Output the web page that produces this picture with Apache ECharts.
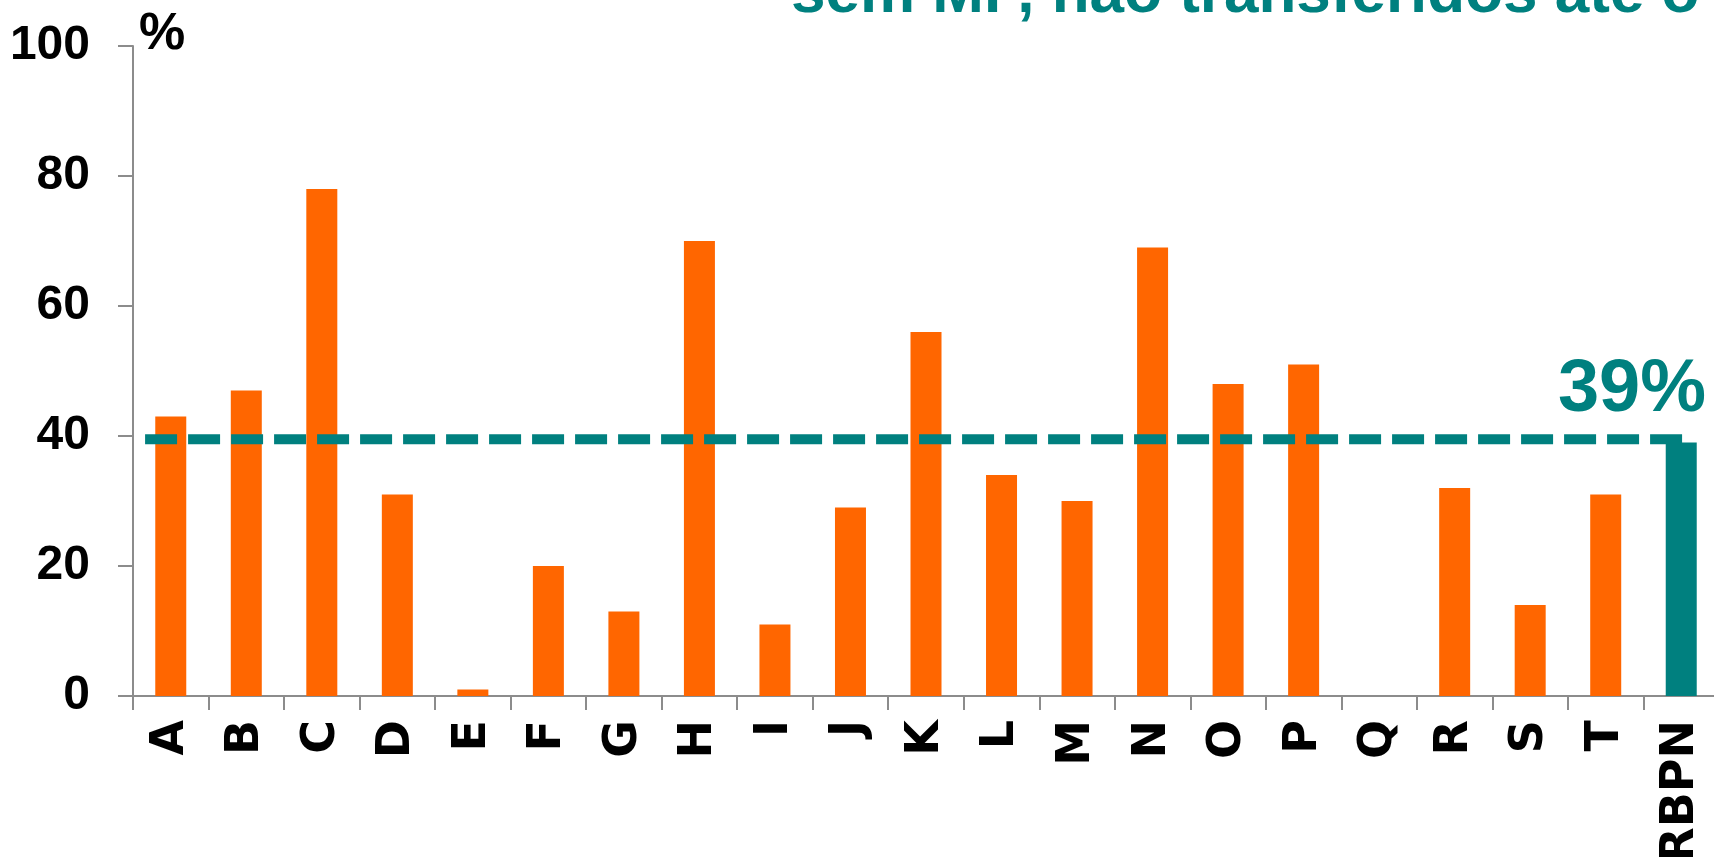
<!DOCTYPE html>
<html>
<head>
<meta charset="utf-8">
<script src="https://cdn.jsdelivr.net/npm/echarts@6/dist/echarts.min.js"></script>
<style>
html,body{margin:0;padding:0;background:#fff}
#chart{width:1714px;height:857px}
</style>
</head>
<body>
<div id="chart"></div>
<script>
// dados
var categories = ['A','B','C','D','E','F','G','H','I','J','K','L','M','N','O','P','Q','R','S','T','RBPN'];
var values = [43,47,78,31,1,20,13,70,11,29,56,34,30,69,48,51,0,32,14,31,39];
var highlight = 'RBPN';
var yMin = 0, yMax = 100, yStep = 20;
// linha de referência (média) e o seu intervalo no eixo x (em categorias)
var refValue = 39.5;
var refSpan = [0.16, 20.53];
var refLabel = '39%';
var titleText = 'sem MP, não transferidos até o';

var ORANGE = '#FF6600';
var TEAL = '#00807F';
var FONT = '"Liberation Sans", Arial, sans-serif';

var barData = [];
for (var i = 0; i < categories.length; i++) {
	barData.push({
		value: values[i],
		itemStyle: { color: categories[i] === highlight ? TEAL : ORANGE }
	});
}

var refData = [];
for (var j = 0; j < refSpan.length; j++) {
	refData.push([refSpan[j], refValue]);
}

var options = {
	animation: false,
	backgroundColor: '#fff',
	grid: { left: 133, right: -5, top: 46, bottom: 161, containLabel: false, outerBoundsMode: 'none' },
	graphic: [
		{
			type: 'text', x: 791, y: -5,
			style: { text: titleText, fill: TEAL, font: 'bold 62px ' + FONT, textVerticalAlign: 'middle' }
		},
		{
			type: 'text', x: 139, y: 35,
			style: { text: '%', fill: '#000', font: 'bold 52px ' + FONT, textVerticalAlign: 'middle' }
		},
		{
			type: 'text', x: 1706, y: 391,
			style: { text: refLabel, fill: TEAL, font: 'bold 74px ' + FONT, textAlign: 'right', textVerticalAlign: 'middle' }
		}
	],
	xAxis: [
		{
			type: 'category',
			data: categories,
			axisLine: { lineStyle: { color: '#8c8c8c', width: 2 } },
			axisTick: { show: true, length: 14, lineStyle: { color: '#8c8c8c', width: 2 } },
			axisLabel: {
				rotate: 90, margin: 24, interval: 0,
				color: '#000', fontWeight: 'bold', fontSize: 46, fontFamily: '"DejaVu Sans", sans-serif'
			}
		},
		{
			type: 'value', min: 0, max: categories.length, show: false
		}
	],
	yAxis: {
		type: 'value',
		min: yMin, max: yMax, interval: yStep,
		splitLine: { show: false },
		axisLine: { show: true, lineStyle: { color: '#8c8c8c', width: 2 } },
		axisTick: { show: true, length: 15, lineStyle: { color: '#8c8c8c', width: 2 } },
		axisLabel: { margin: 43, color: '#000', fontWeight: 'bold', fontSize: 48, fontFamily: FONT }
	},
	series: [
		{
			type: 'bar',
			barWidth: 31,
			data: barData
		},
		{
			type: 'line',
			xAxisIndex: 1,
			symbol: 'none',
			data: refData,
			lineStyle: { color: TEAL, width: 10, type: [32, 11] },
			z: 5
		}
	]
};

var chart = echarts.init(document.getElementById('chart'));
chart.setOption(options);
</script>
</body>
</html>
